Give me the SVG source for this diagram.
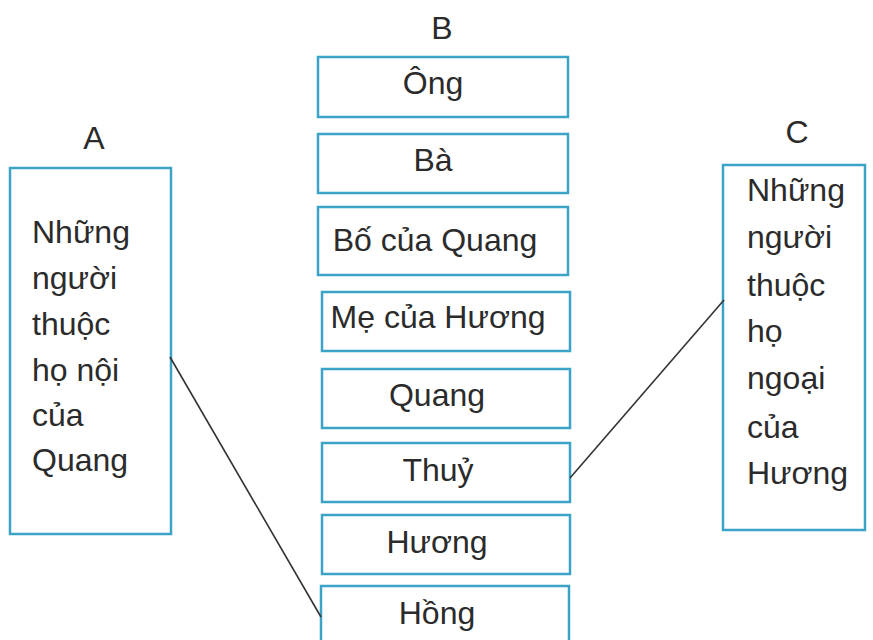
<svg xmlns="http://www.w3.org/2000/svg" width="873" height="640" viewBox="0 0 873 640">
<style>
.box{fill:#ffffff;stroke:#3aa3c6;stroke-width:2.5}
.t{font-family:"Liberation Sans",Arial,sans-serif;font-size:32px;fill:#2b2b2b}
.m{text-anchor:middle}
.conn{stroke:#333;stroke-width:1.6;fill:none}
</style>
<rect width="873" height="640" fill="#ffffff"/>
<text class="t m" x="94" y="149">A</text>
<text class="t m" x="442" y="39">B</text>
<text class="t m" x="797" y="143">C</text>
<g id="A">
<rect class="box" x="10" y="168" width="161" height="366"/>
<text class="t" x="32" y="243">Những</text>
<text class="t" x="32" y="289">người</text>
<text class="t" x="32" y="335">thuộc</text>
<text class="t" x="32" y="381">họ nội</text>
<text class="t" x="32" y="426">của</text>
<text class="t" x="32" y="471">Quang</text>
</g>
<g id="C">
<rect class="box" x="723" y="165" width="142" height="365"/>
<text class="t" x="747" y="201">Những</text>
<text class="t" x="747" y="248">người</text>
<text class="t" x="747" y="296">thuộc</text>
<text class="t" x="747" y="342">họ</text>
<text class="t" x="747" y="389">ngoại</text>
<text class="t" x="747" y="438">của</text>
<text class="t" x="747" y="484">Hương</text>
</g>
<g id="B1"><rect class="box" x="318" y="57" width="250" height="60"/><text class="t m" x="433" y="94">Ông</text></g>
<g id="B2"><rect class="box" x="318" y="134" width="250" height="59"/><text class="t m" x="433" y="171">Bà</text></g>
<g id="B3"><rect class="box" x="318" y="207" width="250" height="68"/><text class="t m" x="435" y="251">Bố của Quang</text></g>
<g id="B4"><rect class="box" x="322" y="292" width="248" height="59"/><text class="t m" x="438" y="328">Mẹ của Hương</text></g>
<g id="B5"><rect class="box" x="322" y="369" width="248" height="59"/><text class="t m" x="437" y="406">Quang</text></g>
<g id="B6"><rect class="box" x="322" y="443" width="248" height="59"/><text class="t m" x="438" y="481">Thuỷ</text></g>
<g id="B7"><rect class="box" x="322" y="515" width="248" height="59"/><text class="t m" x="437" y="553">Hương</text></g>
<g id="B8"><rect class="box" x="321" y="586" width="248" height="70"/><text class="t m" x="437" y="624">Hồng</text></g>
<g id="connectors">
<line class="conn" x1="170" y1="357" x2="321" y2="617"/>
<line class="conn" x1="570" y1="478" x2="724" y2="300"/>
</g>
</svg>
